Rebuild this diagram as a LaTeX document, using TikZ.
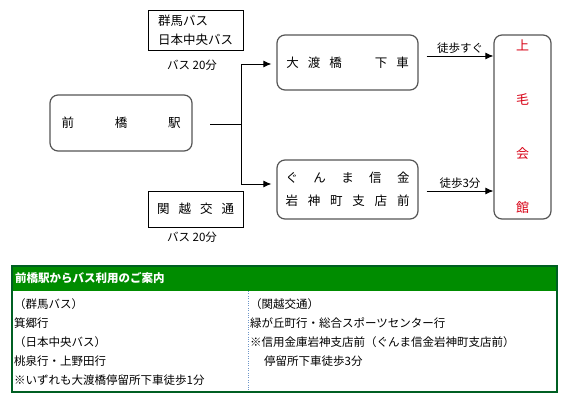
\documentclass[tikz,border=0pt]{standalone}
\usepackage{fontspec}
\setmainfont{Noto Sans CJK JP}
\usetikzlibrary{arrows.meta}

\definecolor{boxgray}{RGB}{85,85,85}
\definecolor{kanred}{RGB}{215,0,20}
\definecolor{tblgreen}{RGB}{0,140,0}
\definecolor{tbldark}{RGB}{0,95,35}
\definecolor{celldot}{RGB}{110,150,200}

\tikzset{
  stop/.style={draw=boxgray,line width=1.2pt,rounded corners=8pt,inner sep=0pt},
  busbox/.style={draw=black,line width=0.9pt,inner sep=0pt},
  route/.style={line width=0.9pt,-{Latex[length=8pt,width=7pt]}},
  note/.style={font=\fontsize{11.5}{14}\selectfont,inner sep=2pt},
  cell/.style={anchor=north west,align=left,inner sep=0pt,font=\fontsize{11.5}{19.2}\selectfont},
}

\begin{document}
\begin{tikzpicture}[x=1pt,y=-1pt,font=\fontsize{12.5}{15}\selectfont]
  \useasboundingbox (0,0) rectangle (585,414);
  % stops
  \node[stop,minimum width=142pt,minimum height=56pt] (maebashi) at (121,123)
    {\makebox[119pt][s]{前\hfill 橋\hfill 駅}};
  \node[stop,minimum width=141pt,minimum height=55pt] (owatari) at (347.5,62.5)
    {大\hspace{9pt}渡\hspace{9pt}橋\hspace{33pt}下\hspace{9pt}車};
  \node[stop,minimum width=141pt,minimum height=59pt,align=center] (shinkin) at (347.5,189.5)
    {\makebox[124pt][s]{ぐ\hfill ん\hfill ま\hfill 信\hfill 金}\\[8pt]\makebox[124pt][s]{岩\hfill 神\hfill 町\hfill 支\hfill 店\hfill 前}};
  \node[stop,minimum width=57pt,minimum height=184pt,align=center,text=kanred,
        font=\fontsize{13}{54}\selectfont] (jomo) at (522.5,127) {上\\毛\\会\\館};
  % bus lines
  \node[busbox,minimum width=95pt,minimum height=40pt,align=left,
        font=\fontsize{12.5}{19}\selectfont] (gunma) at (195.5,30) {群馬バス\\日本中央バス};
  \node[busbox,minimum width=95pt,minimum height=36pt] (kanetsu) at (195.5,209)
    {関\hspace{9pt}越\hspace{9pt}交\hspace{9pt}通};
  \node[note] (fare1) at (192,65) {バス 20分};
  \node[note] (fare2) at (192,237) {バス 20分};
  % connectors
  \coordinate (start) at (210,124);
  \coordinate (fork) at (241,124);
  \draw[line width=0.9pt] (start) -- (fork);
  \draw[route,shorten >=5pt] (fork) |- ([yshift=-1.5pt]owatari.west);
  \draw[route,shorten >=5pt] (fork) |- ([yshift=5.5pt]shinkin.west);
  \draw[route] ([xshift=8pt,yshift=6.5pt]owatari.east) -- ([yshift=6.5pt]owatari.east -| jomo.west)
    node[note,midway,above] (walk1) {徒歩すぐ};
  \draw[route] ([xshift=8pt,yshift=-1.5pt]shinkin.east) -- ([yshift=-1.5pt]shinkin.east -| jomo.west)
    node[note,midway,above] (walk2) {徒歩3分};
  % guide table
  \fill[tblgreen] (12,266) rectangle (557,291);
  \node[anchor=west,text=white,inner sep=0pt,font=\fontsize{11.5}{14}\selectfont\bfseries] (title) at (15,278.5)
    {前橋駅からバス利用のご案内};
  \draw[celldot,dotted] (248,291) -- (248,392);
  \draw[tbldark,line width=1.6pt] (12,266) rectangle (557,392);
  \node[cell] (leftcol) at (14,298)
    {（群馬バス）\\箕郷行\\（日本中央バス）\\桃泉行・上野田行\\※いずれも大渡橋停留所下車徒歩1分};
  \node[cell] (rightcol) at (250,298)
    {（関越交通）\\緑が丘町行・総合スポーツセンター行\\※信用金庫岩神支店前（ぐんま信金岩神町支店前）\\\hspace{14pt}停留所下車徒歩3分};
\end{tikzpicture}
\end{document}
